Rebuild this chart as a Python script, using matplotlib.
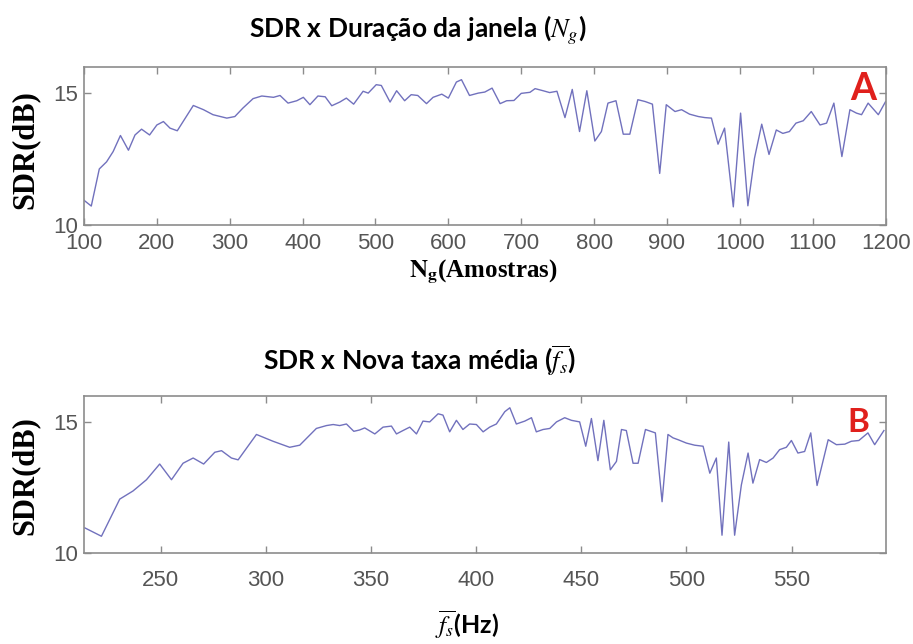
"""
SDR x Duração da janela / SDR x Nova taxa média
"""

import matplotlib
matplotlib.use("Agg")
import matplotlib.pyplot as plt

ng = [100, 110, 121, 131, 140, 150, 161, 170, 179, 190, 200, 209, 218, 228, 250,
      264, 277, 296, 307, 318, 332, 344, 360, 369, 380, 392, 401, 410, 421, 431,
      440, 451, 460, 470, 483, 490, 501, 508, 520, 529, 540, 549, 558, 570, 579,
      591, 600, 611, 618, 629, 641, 650, 660, 671, 680, 690, 700, 712, 719, 730,
      739, 749, 760, 770, 780, 790, 801, 810, 819, 830, 840, 849, 860, 870, 880,
      890, 899, 911, 920, 931, 943, 952, 961, 970, 979, 991, 1001, 1011, 1020, 1030,
      1040, 1050, 1059, 1068, 1077, 1087, 1098, 1110, 1119, 1129, 1140, 1151, 1160,
      1167, 1176, 1190, 1200]
sdr_a = [10.94, 10.72, 12.13, 12.40, 12.79, 13.40, 12.84, 13.42, 13.64, 13.42, 13.80,
         13.93, 13.68, 13.58, 14.54, 14.38, 14.19, 14.06, 14.12, 14.44, 14.80, 14.90,
         14.85, 14.92, 14.63, 14.72, 14.85, 14.57, 14.90, 14.87, 14.53, 14.67, 14.82,
         14.59, 15.08, 15.01, 15.33, 15.30, 14.67, 15.10, 14.72, 14.95, 14.92, 14.61,
         14.85, 14.97, 14.82, 15.43, 15.52, 14.92, 15.01, 15.05, 15.20, 14.61, 14.72,
         14.73, 15.00, 15.04, 15.18, 15.10, 15.03, 15.08, 14.08, 15.15, 13.55, 15.10,
         13.19, 13.55, 14.63, 14.72, 13.45, 13.45, 14.76, 14.69, 14.59, 11.96, 14.57,
         14.31, 14.38, 14.21, 14.12, 14.08, 14.06, 13.07, 13.68, 10.69, 14.25, 10.73,
         12.53, 13.83, 12.68, 13.61, 13.48, 13.55, 13.87, 13.96, 14.31, 13.80, 13.87,
         14.63, 12.60, 14.38, 14.25, 14.19, 14.63, 14.19, 14.69]

fs = [213.9, 221.8, 230.5, 236.8, 243.2, 249.5, 255.1, 260.6, 265.4, 270.4, 275.7,
      278.9, 283.6, 286.8, 295.5, 303.4, 311.3, 316.1, 324.0, 328.8, 332.0, 335.1,
      338.3, 341.8, 344.5, 347.0, 351.8, 355.7, 359.7, 362.1, 365.2, 368.4, 371.6,
      374.7, 377.9, 381.9, 384.2, 387.4, 390.6, 393.7, 396.9, 400.1, 403.3, 406.4,
      409.6, 413.6, 416.0, 419.1, 423.1, 426.3, 428.6, 431.8, 435.0, 438.2, 442.1,
      445.3, 449.2, 452.1, 454.8, 457.9, 460.7, 463.8, 466.7, 469.1, 471.4, 474.6,
      477.0, 480.5, 485.2, 488.4, 491.2, 493.6, 496.0, 500.0, 503.9, 507.9, 511.1,
      514.2, 516.9, 520.1, 522.9, 526.1, 529.3, 531.6, 534.8, 538.0, 541.2, 544.3,
      547.5, 549.9, 553.0, 556.2, 559.1, 562.1, 567.4, 571.3, 575.3, 578.4, 582.0,
      586.3, 589.5, 593.9]
sdr_b = [10.96, 10.64, 12.06, 12.37, 12.80, 13.40, 12.80, 13.43, 13.63, 13.40, 13.85,
         13.91, 13.63, 13.56, 14.53, 14.27, 14.04, 14.12, 14.76, 14.87, 14.91, 14.87,
         14.93, 14.65, 14.70, 14.78, 14.55, 14.81, 14.85, 14.55, 14.68, 14.81, 14.55,
         15.04, 15.01, 15.32, 15.27, 14.63, 15.07, 14.72, 14.93, 14.91, 14.63, 14.81,
         14.93, 15.40, 15.55, 14.93, 15.04, 15.17, 14.63, 14.72, 14.76, 15.01, 15.17,
         15.07, 15.01, 14.08, 15.14, 13.53, 15.07, 13.18, 13.50, 14.72, 14.68, 13.43,
         13.43, 14.72, 14.59, 11.96, 14.53, 14.40, 14.33, 14.20, 14.12, 14.08, 13.05,
         13.63, 10.68, 14.24, 10.68, 12.60, 13.82, 12.67, 13.57, 13.46, 13.63, 13.95,
         14.04, 14.30, 13.82, 13.88, 14.59, 12.58, 14.33, 14.14, 14.16, 14.27, 14.30,
         14.59, 14.14, 14.68]

ticks_a = [100, 200, 300, 400, 500, 600, 700, 800, 900, 1000, 1100, 1200]
ticks_b = [250, 300, 350, 400, 450, 500, 550]
yticks = [10, 15]

COR_LINHA = "#7171bd"
COR_EIXO = "#8c8c8c"
COR_TICK = "#555555"
FONTE_TITULO = "Lato"
FONTE_EIXO = "Liberation Serif"


def estilo_eixo(ax, pad_x):
    """Estilo parecido com o do MATLAB"""
    for sp in ax.spines.values():
        sp.set_color(COR_EIXO)
        sp.set_linewidth(1.2)
    ax.tick_params(direction="in", top=True, right=True, length=5, width=1,
                   color=COR_EIXO, labelcolor=COR_TICK, labelsize=16, pad=4)
    ax.tick_params(axis="x", pad=pad_x)
    for lb in ax.get_xticklabels() + ax.get_yticklabels():
        lb.set_fontfamily("Liberation Sans")
    ax.set_ylim(10, 16)
    ax.set_yticks(yticks)


fig = plt.figure(figsize=(9.13, 6.44), dpi=100)

# Gráfico A
ax1 = fig.add_axes([0.092, 0.6506, 0.878, 0.2453])
ax1.plot(ng, sdr_a, color=COR_LINHA, linewidth=1.0)
ax1.set_xlim(100, 1200)
ax1.set_xticks(ticks_a)
estilo_eixo(ax1, 6)
ax1.text(0.972, 0.86, "A", transform=ax1.transAxes, color="#e0201c", fontsize=27,
         fontweight="bold", fontfamily=FONTE_TITULO, ha="center", va="center")

# Gráfico B
ax2 = fig.add_axes([0.092, 0.1413, 0.878, 0.2438])
ax2.plot(fs, sdr_b, color=COR_LINHA, linewidth=1.0)
ax2.set_xlim(213.5, 594.7)
ax2.set_xticks(ticks_b)
estilo_eixo(ax2, 12)
ax2.text(0.966, 0.83, "B", transform=ax2.transAxes, color="#e0201c", fontsize=24,
         fontweight="bold", fontfamily=FONTE_TITULO, ha="center", va="center")

# Títulos
fig.text(0.458, 0.953, r"SDR x Duração da janela ($N_g$)", ha="center", va="center",
         fontsize=19, fontweight="bold", fontfamily=FONTE_TITULO, math_fontfamily="stix")
fig.text(0.460, 0.440, r"SDR x Nova taxa média ($\overline{f_s}$)", ha="center",
         va="center", fontsize=19, fontweight="bold", fontfamily=FONTE_TITULO,
         math_fontfamily="stix")

# Rótulos dos eixos
fig.text(0.529, 0.578, r"$\mathbf{N_g}$(Amostras)", ha="center", va="center",
         fontsize=18, fontweight="bold", fontfamily=FONTE_EIXO, math_fontfamily="stix")
fig.text(0.511, 0.030, r"$\overline{f_s}$(Hz)", ha="center", va="center",
         fontsize=18, fontweight="bold", fontfamily=FONTE_TITULO, math_fontfamily="stix")
for yc in (0.767, 0.262):
    fig.text(0.027, yc, "SDR(dB)", ha="center", va="center", rotation=90,
             fontsize=22, fontweight="bold", fontfamily=FONTE_EIXO)

plt.savefig("out.png", dpi=100)
plt.close()
